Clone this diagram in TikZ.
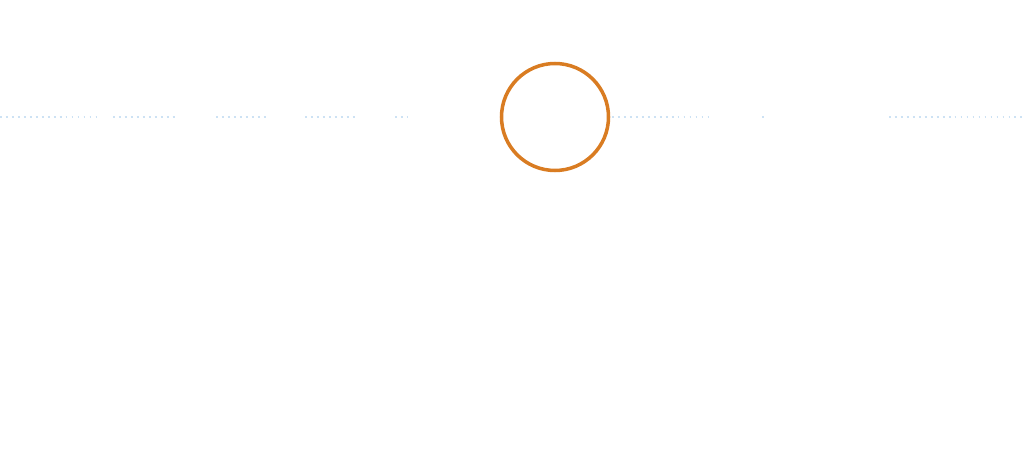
\documentclass[tikz,border=0pt]{standalone}
\usepackage{tikz}
\usetikzlibrary{positioning}

\definecolor{ringorange}{RGB}{217,124,34}
\definecolor{guideblue}{RGB}{205,226,244}

\begin{document}
\begin{tikzpicture}[
    x=1cm,y=1cm,
    ring/.style={draw=ringorange,line width=1pt,circle,minimum size=1.07cm,inner sep=0pt},
    guide/.style={draw=guideblue,line width=0.35pt,dash pattern=on 0.5pt off 1.2pt}
]

\useasboundingbox[fill=white] (0,0) rectangle (10.24,4.76);

\node (hub) [ring] at (5.55,3.59) {};

\foreach \a/\b in {0/1.00, 1.13/1.78, 2.16/2.67, 3.05/3.55, 3.95/4.08,
                   6.12/7.09, 7.62/7.67, 8.89/10.24}
    \draw[guide] (\a,3.59) -- (\b,3.59);

\end{tikzpicture}
\end{document}
